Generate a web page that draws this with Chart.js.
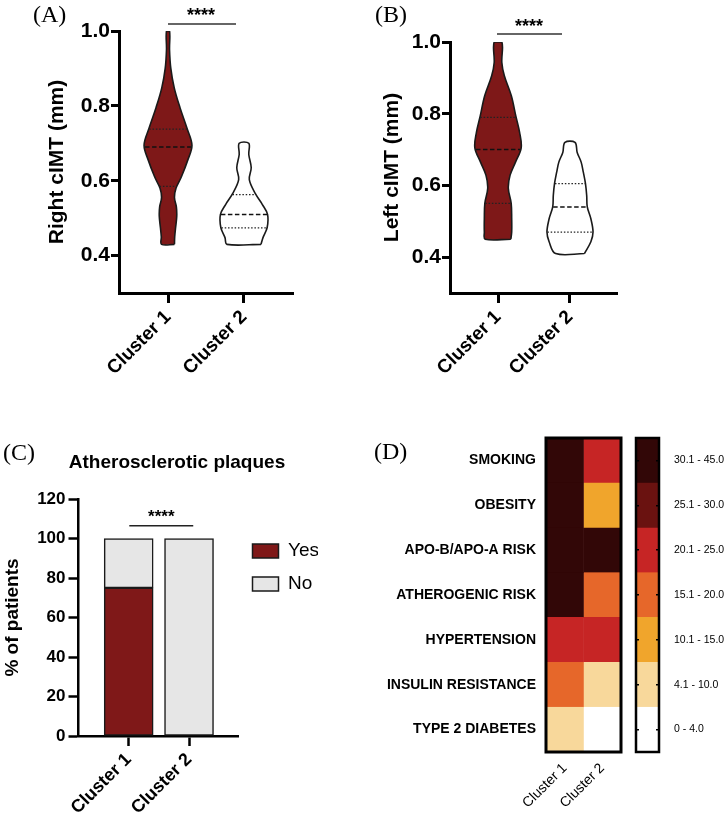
<!DOCTYPE html>
<html><head><meta charset="utf-8">
<script src="https://cdn.jsdelivr.net/npm/chart.js@4.4.1/dist/chart.umd.min.js"></script>
<style>
html,body{margin:0;padding:0;background:#fff;}
body{width:725px;height:815px;position:relative;overflow:hidden;}
canvas{position:absolute;}
.letter{position:absolute;font-family:'Liberation Serif','Times New Roman',serif;font-size:24px;line-height:24px;color:#000;}
.ptitle{position:absolute;font-family:'Liberation Sans',Arial,sans-serif;font-weight:bold;font-size:19px;line-height:22px;text-align:center;color:#000;}
</style></head><body>
<canvas id="cA" width="362" height="400" style="left:0;top:0"></canvas>
<canvas id="cB" width="363" height="400" style="left:362px;top:0"></canvas>
<canvas id="cC" width="362" height="415" style="left:0;top:400px"></canvas>
<canvas id="cD" width="260" height="415" style="left:370px;top:400px"></canvas>
<canvas id="cE" width="100" height="415" style="left:625px;top:400px"></canvas>
<div class="letter" style="left:33px;top:2px">(A)</div>
<div class="letter" style="left:375px;top:2px">(B)</div>
<div class="letter" style="left:3px;top:440px">(C)</div>
<div class="letter" style="left:374px;top:439px">(D)</div>
<div class="ptitle" style="left:0;width:354px;top:451px">Atherosclerotic plaques</div>
<script>
// ---------- DATA ----------
const clusters = ['Cluster 1', 'Cluster 2'];
const cimtTicks = [0.4, 0.6, 0.8, 1.0];

// Right cIMT violins: levels (mm) and half-width of the density outline (category units)
const rightC1Levels = [0.43, 0.45, 0.475, 0.505, 0.53, 0.555, 0.58, 0.61, 0.655, 0.695, 0.74, 0.795, 0.848, 0.90, 0.95, 1.00];
const rightC1Half   = [0.085, 0.088, 0.10, 0.115, 0.11, 0.085, 0.105, 0.175, 0.26, 0.315, 0.25, 0.158, 0.082, 0.037, 0.02, 0.02];
const rightC1Quartiles = [0.585, 0.69, 0.738];
const rightC2Levels = [0.43, 0.448, 0.475, 0.51, 0.537, 0.564, 0.603, 0.635, 0.67, 0.70];
const rightC2Half   = [0.224, 0.25, 0.305, 0.31, 0.24, 0.154, 0.07, 0.095, 0.063, 0.063];
const rightC2Quartiles = [0.474, 0.51, 0.563];

// Left cIMT violins
const leftC1Levels = [0.45, 0.47, 0.508, 0.55, 0.592, 0.628, 0.665, 0.705, 0.748, 0.794, 0.85, 0.906, 0.943, 1.0];
const leftC1Half   = [0.178, 0.19, 0.19, 0.183, 0.143, 0.167, 0.243, 0.322, 0.30, 0.247, 0.185, 0.088, 0.053, 0.053];
const leftC1Quartiles = [0.55, 0.70, 0.79];
const leftC2Levels = [0.41, 0.443, 0.47, 0.507, 0.54, 0.572, 0.605, 0.637, 0.665, 0.692, 0.72];
const leftC2Half   = [0.2, 0.29, 0.32, 0.29, 0.24, 0.232, 0.215, 0.185, 0.155, 0.10, 0.07];
const leftC2Quartiles = [0.47, 0.54, 0.605];

// Atherosclerotic plaques (% of patients)
const plaqueYes = [75, 0];
const plaqueNo = [25, 100];
const percentMajor = [0, 20, 40, 60, 80, 100, 120];
const percentMinor = [10, 30, 50, 70, 90, 110];

// Heatmap
const riskFactors = ['SMOKING', 'OBESITY', 'APO-B/APO-A RISK', 'ATHEROGENIC RISK', 'HYPERTENSION', 'INSULIN RESISTANCE', 'TYPE 2 DIABETES'];
const riskCluster1 = [35, 35, 35, 35, 22, 17, 7];
const riskCluster2 = [22, 12, 35, 17, 22, 7, 2];
const binLabels = ['30.1 - 45.0', '25.1 - 30.0', '20.1 - 25.0', '15.1 - 20.0', '10.1 - 15.0', '4.1 - 10.0', '0 - 4.0'];
const binLower = [30.1, 25.1, 20.1, 15.1, 10.1, 4.1, 0];
const binColors = ['#320707', '#6a1210', '#c62525', '#e6672a', '#f0a52c', '#f8d89b', '#ffffff'];

// ---------- HELPERS ----------
const FONT = "'Liberation Sans', Arial, Helvetica, sans-serif";
Chart.defaults.font.family = FONT;
Chart.defaults.color = '#000';
Chart.defaults.animation = false;
Chart.defaults.events = [];
Chart.defaults.plugins.legend.display = false;
Chart.defaults.plugins.tooltip.enabled = false;
Chart.defaults.elements.point.radius = 0;

function f(size, weight) { return {family: FONT, size: size, weight: weight || 'bold'}; }

// pick a narrow face for the colour-key labels only if one is really installed
const keyFont = (function () {
  const m = document.createElement('canvas').getContext('2d');
  m.font = "12px 'Liberation Sans Narrow', monospace";
  const wn = m.measureText('30.1 - 45.0').width;
  m.font = '12px monospace';
  const wm = m.measureText('30.1 - 45.0').width;
  if (Math.abs(wn - wm) > 0.5) return {family: "'Liberation Sans Narrow', 'Liberation Sans', sans-serif", size: 12, weight: 'normal'};
  return {family: FONT, size: 10.5, weight: 'normal'};
})();

function violinPoints(c, levels, half) {
  const right = levels.map((y, i) => ({x: c + half[i], y: y}));
  const left = levels.map((y, i) => ({x: c - half[i], y: y})).reverse();
  return right.concat(left, [right[0]]);
}
function halfAt(levels, half, v) {
  for (let i = 0; i < levels.length - 1; i++) {
    if (v >= levels[i] && v <= levels[i + 1]) {
      const t = (v - levels[i]) / (levels[i + 1] - levels[i]);
      return half[i] + t * (half[i + 1] - half[i]);
    }
  }
  return half[half.length - 1];
}
function quartileLine(c, levels, half, v) {
  const w = halfAt(levels, half, v) - 0.006;
  return [{x: c - w, y: v}, {x: c + w, y: v}];
}
function binColor(v) {
  for (let i = 0; i < binLower.length; i++) if (v >= binLower[i]) return binColors[i];
  return binColors[binColors.length - 1];
}

const textMarks = {
  id: 'textMarks',
  afterDatasetsDraw(chart, args, opts) {
    const items = (opts && opts.items) || [];
    const ctx = chart.ctx;
    ctx.save();
    for (const it of items) {
      const px = chart.scales.x.getPixelForValue(it.x);
      const py = chart.scales.y.getPixelForValue(it.y);
      ctx.font = it.font;
      ctx.fillStyle = it.color || '#000';
      ctx.textAlign = 'center';
      ctx.textBaseline = 'middle';
      ctx.fillText(it.text, px, py);
    }
    ctx.restore();
  }
};
const frame = {
  id: 'frame',
  afterDatasetsDraw(chart, args, opts) {
    if (!opts || !opts.width) return;
    const a = chart.chartArea, ctx = chart.ctx;
    ctx.save();
    ctx.lineWidth = opts.width;
    ctx.strokeStyle = '#000';
    ctx.strokeRect(a.left, a.top, a.right - a.left, a.bottom - a.top);
    ctx.restore();
  }
};

function violinPanel(id, cfg) {
  const ds = [];
  cfg.groups.forEach((g, gi) => {
    const c = gi + 1;
    const q = g.quartiles;
    [q[0], q[2]].forEach(v => ds.push({data: quartileLine(c, g.levels, g.half, v), showLine: true,
      borderColor: '#222', borderWidth: 1.2, borderDash: [1.5, 1.8], order: 0}));
    ds.push({data: quartileLine(c, g.levels, g.half, q[1]), showLine: true,
      borderColor: '#111', borderWidth: 1.5, borderDash: [4.5, 2.5], order: 0});
    ds.push({data: violinPoints(c, g.levels, g.half), showLine: true, fill: 'shape',
      backgroundColor: g.fill, borderColor: '#1a1a1a', borderWidth: 1.6, tension: 0.35, order: 1});
  });
  ds.push({data: cfg.sigLine, showLine: true, borderColor: '#333', borderWidth: 1.5, clip: false, order: 0});
  new Chart(document.getElementById(id), {
    type: 'scatter',
    data: {datasets: ds},
    options: {
      responsive: false,
      layout: {padding: cfg.padding},
      scales: {
        x: {
          type: 'linear', min: cfg.xRange[0], max: cfg.xRange[1],
          afterBuildTicks: s => { s.ticks = clusters.map((_, i) => ({value: i + 1})); },
          afterFit: s => { s.height = cfg.xHeight; },
          ticks: {autoSkip: false, minRotation: 45, maxRotation: 45, padding: 3, font: f(19), color: '#000',
            callback: (v, i) => clusters[i]},
          grid: {drawOnChartArea: false, drawTicks: true, tickLength: 10, tickWidth: 3, tickColor: '#000'},
          border: {display: true, width: 3, color: '#000'}
        },
        y: {
          type: 'linear', min: 0.3, max: 1.0,
          afterBuildTicks: s => { s.ticks = cimtTicks.map(v => ({value: v})); },
          afterFit: s => { s.width = cfg.yWidth; },
          ticks: {padding: 1, font: f(21), color: '#000', callback: v => v.toFixed(1)},
          grid: {drawOnChartArea: false, tickLength: 8, tickWidth: 3, tickColor: '#000'},
          border: {display: true, width: 3, color: '#000'},
          title: {display: true, text: cfg.yTitle, font: f(21), color: '#000', padding: {top: cfg.titlePad, bottom: 0}}
        }
      },
      plugins: {textMarks: {items: [{text: '****', x: cfg.stars[0], y: cfg.stars[1], font: 'bold 18px ' + FONT}]}}
    },
    plugins: [textMarks]
  });
}

// ---------- PANEL A ----------
violinPanel('cA', {
  groups: [
    {levels: rightC1Levels, half: rightC1Half, quartiles: rightC1Quartiles, fill: '#7e1818'},
    {levels: rightC2Levels, half: rightC2Half, quartiles: rightC2Quartiles, fill: '#ffffff'}
  ],
  yTitle: 'Right cIMT (mm)',
  xRange: [0.355, 2.645],
  padding: {left: 30, top: 31, right: 69, bottom: 0},
  yWidth: 89, titlePad: 14.4, xHeight: 107,
  sigLine: [{x: 1.0, y: 1.019}, {x: 1.895, y: 1.019}],
  stars: [1.434, 1.041]
});

// ---------- PANEL B ----------
violinPanel('cB', {
  groups: [
    {levels: leftC1Levels, half: leftC1Half, quartiles: leftC1Quartiles, fill: '#7e1818'},
    {levels: leftC2Levels, half: leftC2Half, quartiles: leftC2Quartiles, fill: '#ffffff'}
  ],
  yTitle: 'Left cIMT (mm)',
  xRange: [0.333, 2.653],
  padding: {left: 5, top: 42, right: 108, bottom: 0},
  yWidth: 83, titlePad: 12.4, xHeight: 107,
  sigLine: [{x: 0.986, y: 1.022}, {x: 1.889, y: 1.022}],
  stars: [1.43, 1.043]
});

// ---------- PANEL C ----------
new Chart(document.getElementById('cC'), {
  type: 'bar',
  data: {
    datasets: [
      {label: 'Yes', data: plaqueYes.map((v, i) => ({x: i + 1, y: v})), backgroundColor: '#7f1818',
        borderColor: '#1a1a1a', borderWidth: 1.5, borderSkipped: false, barThickness: 49},
      {label: 'No', data: plaqueNo.map((v, i) => ({x: i + 1, y: v})), backgroundColor: '#e6e6e6',
        borderColor: '#1a1a1a', borderWidth: 1.5, borderSkipped: false, barThickness: 49},
      {type: 'line', label: 'sig', data: [{x: 1.01, y: 106.5}, {x: 2.07, y: 106.5}],
        borderColor: '#222', borderWidth: 1.5, pointRadius: 0, fill: false}
    ]
  },
  options: {
    responsive: false,
    layout: {padding: {left: 0, top: 99, right: 44, bottom: 0}},
    scales: {
      x: {
        type: 'linear', min: 0.16, max: 2.82, stacked: true, offset: false,
        afterBuildTicks: s => { s.ticks = clusters.map((_, i) => ({value: i + 1})); },
        afterFit: s => { s.height = 79; },
        ticks: {autoSkip: false, minRotation: 45, maxRotation: 45, padding: 3, font: f(18), color: '#000',
          callback: (v, i) => clusters[i]},
        grid: {offset: false, drawOnChartArea: false, tickLength: 10, tickWidth: 2.5, tickColor: '#000'},
        border: {display: true, width: 2.5, color: '#000'}
      },
      y: {
        type: 'linear', min: 0, max: 120, stacked: true,
        afterBuildTicks: s => { s.ticks = percentMajor.concat(percentMinor).sort((a, b) => a - b).map(v => ({value: v})); },
        afterFit: s => { s.width = 78; },
        ticks: {padding: 3, font: f(17), color: '#000', callback: v => percentMajor.includes(v) ? String(v) : ''},
        grid: {drawOnChartArea: false, tickLength: 9.5, tickWidth: 2.5, tickColor: '#000',
          tickBorderDash: c => (c.tick && percentMajor.includes(c.tick.value)) ? [] : [0, 3.5, 8, 0]},
        border: {display: true, width: 2.5, color: '#000'},
        title: {display: true, text: '% of patients', font: f(19), color: '#000', padding: {top: 1.6, bottom: 0}}
      }
    },
    plugins: {
      legend: {
        display: true, position: 'right', align: 'start',
        title: {display: true, text: ' ', padding: 7},
        labels: {boxWidth: 26, boxHeight: 14, padding: 14, color: '#000', font: {family: FONT, size: 19},
          filter: item => item.datasetIndex < 2}
      },
      textMarks: {items: [{text: '****', x: 1.54, y: 110.6, font: 'bold 17px ' + FONT}]}
    }
  },
  plugins: [textMarks]
});

// ---------- PANEL D: heatmap ----------
new Chart(document.getElementById('cD'), {
  type: 'bar',
  data: {
    labels: riskFactors,
    datasets: [riskCluster1, riskCluster2].map((vals, ci) => ({
      label: clusters[ci],
      data: vals.map(() => [ci, ci + 1]),
      backgroundColor: vals.map(binColor),
      borderColor: vals.map(binColor),
      borderWidth: 0.5, borderSkipped: false, grouped: false,
      categoryPercentage: 1, barPercentage: 1
    }))
  },
  options: {
    indexAxis: 'y',
    responsive: false,
    layout: {padding: {left: 0, top: 38, right: 9, bottom: 0}},
    scales: {
      x: {
        type: 'linear', min: 0, max: 2,
        afterBuildTicks: s => { s.ticks = clusters.map((_, i) => ({value: i + 0.5})); },
        afterFit: s => { s.height = 63; },
        ticks: {autoSkip: false, minRotation: 45, maxRotation: 45, padding: 8, font: f(14, 'normal'), color: '#000',
          callback: (v, i) => clusters[i]},
        grid: {display: false, drawTicks: false},
        border: {display: false}
      },
      y: {
        afterFit: s => { s.width = 176; },
        ticks: {padding: 10, font: f(14), color: '#000'},
        grid: {display: false, drawTicks: false},
        border: {display: false}
      }
    },
    plugins: {frame: {width: 3}}
  },
  plugins: [frame]
});

// ---------- PANEL D: colour key ----------
new Chart(document.getElementById('cE'), {
  type: 'bar',
  data: {
    labels: binLabels,
    datasets: [{
      data: binLabels.map(() => [0, 1]),
      backgroundColor: binColors, borderColor: binColors,
      borderWidth: 0.5, borderSkipped: false, categoryPercentage: 1, barPercentage: 1
    }]
  },
  options: {
    indexAxis: 'y',
    responsive: false,
    layout: {padding: {left: 11, top: 38, right: 0, bottom: 63}},
    scales: {
      x: {type: 'linear', min: 0, max: 1, display: false},
      y: {
        position: 'right',
        afterFit: s => { s.width = 66; },
        ticks: {padding: 15, font: keyFont, color: '#000'},
        grid: {display: true, drawOnChartArea: true, drawTicks: false, offset: false, color: '#000', lineWidth: 1.5, z: 1},
        border: {display: false, dash: [3, 17]}
      }
    },
    plugins: {frame: {width: 2.5}}
  },
  plugins: [frame]
});
</script>
</body></html>
